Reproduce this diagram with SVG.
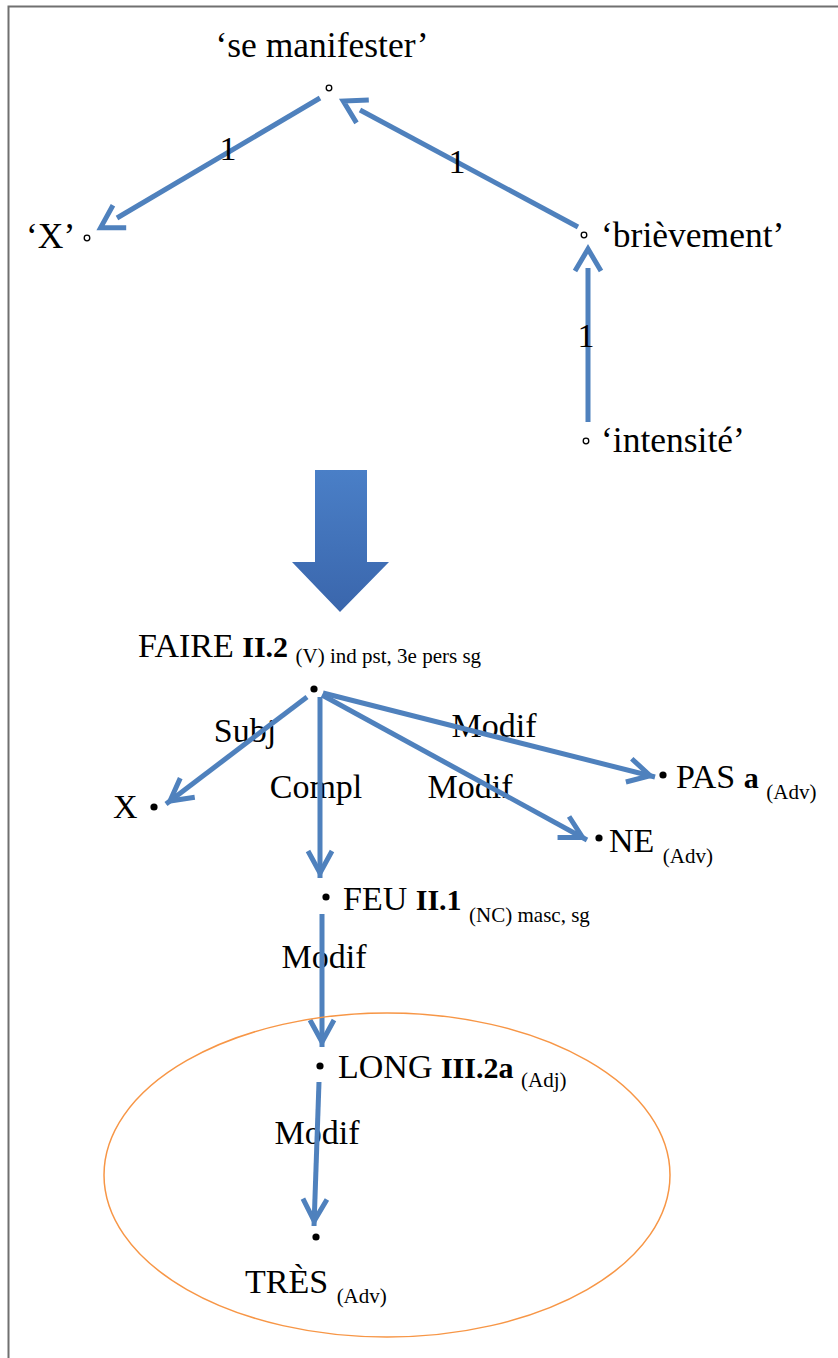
<svg xmlns="http://www.w3.org/2000/svg" width="838" height="1358" viewBox="0 0 838 1358">
<style>
.t{font-family:"Liberation Serif","Times New Roman",serif;font-size:34px;fill:#000}
.q{font-family:"Liberation Serif","Times New Roman",serif;font-size:35.5px;fill:#000}
.b{font-family:"Liberation Serif","Times New Roman",serif;font-size:30px;font-weight:bold;fill:#000}
.s{font-family:"Liberation Serif","Times New Roman",serif;font-size:21px;fill:#000}
.e{stroke:#4F81BD;stroke-width:5;fill:none}
.o{fill:#fff;stroke:#000;stroke-width:1.3}
.d{fill:#000}
</style>
<defs>
<marker id="tip" markerUnits="userSpaceOnUse" orient="auto" refX="0" refY="0" markerWidth="40" markerHeight="40" overflow="visible">
<path d="M-27,-12 L-5,0 L-27,12" fill="none" stroke="#4F81BD" stroke-width="5"/>
</marker>
<marker id="gap" markerUnits="userSpaceOnUse" orient="auto" refX="0" refY="0" markerWidth="40" markerHeight="40" overflow="visible">
<path d="M-3,-13 L19,0 L-3,13" fill="none" stroke="#4F81BD" stroke-width="5"/>
</marker>
<linearGradient id="bg" x1="0" y1="0" x2="0" y2="1">
<stop offset="0" stop-color="#4A7FC7"/>
<stop offset="1" stop-color="#3A66AC"/>
</linearGradient>
</defs>
<rect width="838" height="1358" fill="#fff"/>
<path d="M8.5,1358 V6.5 H838" fill="none" stroke="#707070" stroke-width="2"/>

<g id="n-se-manifester"><text class="q" x="322" y="57" text-anchor="middle">‘se manifester’</text><circle class="o" cx="329" cy="88" r="2.8"/></g>
<g id="n-X-top"><text class="q" x="26" y="248">‘X’</text><circle class="o" cx="87" cy="238" r="2.8"/></g>
<g id="n-brievement"><text class="q" x="601" y="247">‘brièvement’</text><circle class="o" cx="584" cy="235" r="2.8"/></g>
<g id="n-intensite"><text class="q" x="601" y="452">‘intensité’</text><circle class="o" cx="586" cy="441" r="2.8"/></g>

<g id="big-arrow"><path d="M315,470 H367 V562 H389 L340,612 L292,562 H315 Z" fill="url(#bg)"/></g>

<g id="n-faire"><text x="138" y="657"><tspan class="t">FAIRE </tspan><tspan class="b">II.2 </tspan><tspan class="s" dy="6">(V) ind pst, 3e pers sg</tspan></text><circle class="d" cx="314" cy="689" r="3.6"/></g>
<g id="n-X"><text class="t" x="113" y="818">X</text><circle class="d" cx="154" cy="807" r="3.6"/></g>
<g id="n-pas"><circle class="d" cx="663" cy="775" r="3.6"/><text x="676" y="788"><tspan class="t">PAS </tspan><tspan class="b">a </tspan><tspan class="s" dy="11">(Adv)</tspan></text></g>
<g id="n-ne"><circle class="d" cx="599" cy="838" r="3.6"/><text x="609" y="852"><tspan class="t">NE </tspan><tspan class="s" dy="11">(Adv)</tspan></text></g>
<g id="n-feu"><circle class="d" cx="326" cy="897" r="3.6"/><text x="343" y="910"><tspan class="t">FEU </tspan><tspan class="b">II.1 </tspan><tspan class="s" dy="12">(NC) masc, sg</tspan></text></g>
<g id="n-long"><circle class="d" cx="320" cy="1066" r="3.6"/><text x="338" y="1078"><tspan class="t">LONG </tspan><tspan class="b">III.2a </tspan><tspan class="s" dy="9">(Adj)</tspan></text></g>
<g id="n-tres"><circle class="d" cx="316" cy="1237" r="3.6"/><text x="245" y="1293"><tspan class="t">TRÈS </tspan><tspan class="s" dy="10">(Adv)</tspan></text></g>

<g id="edge-labels-lower">
<text class="t" x="245" y="742" text-anchor="middle">Subj</text>
<text class="t" x="316" y="798" text-anchor="middle">Compl</text>
<text class="t" x="470" y="798" text-anchor="middle">Modif</text>
<text class="t" x="494" y="737" text-anchor="middle">Modif</text>
<text class="t" x="324" y="968" text-anchor="middle">Modif</text>
<text class="t" x="317" y="1144" text-anchor="middle">Modif</text>
</g>

<g id="connectors">
<line class="e" x1="320" y1="98" x2="117" y2="218" marker-end="url(#gap)"/>
<line class="e" x1="578" y1="227" x2="360" y2="110" marker-end="url(#gap)"/>
<line class="e" x1="588" y1="422" x2="588" y2="268" marker-end="url(#gap)"/>
<line class="e" x1="307" y1="697" x2="166" y2="804" marker-end="url(#tip)"/>
<line class="e" x1="320" y1="697" x2="320" y2="878" marker-end="url(#tip)"/>
<line class="e" x1="322" y1="695" x2="587" y2="840" marker-end="url(#tip)"/>
<line class="e" x1="323" y1="693" x2="655" y2="777" marker-end="url(#tip)"/>
<line class="e" x1="322" y1="914" x2="322" y2="1047" marker-end="url(#tip)"/>
<line class="e" x1="319" y1="1082" x2="314" y2="1226" marker-end="url(#tip)"/>
</g>

<g id="edge-labels-upper">
<text class="t" x="228" y="160" text-anchor="middle">1</text>
<text class="t" x="457" y="173" text-anchor="middle">1</text>
<text class="t" x="586" y="347" text-anchor="middle">1</text>
</g>

<g id="ellipse"><ellipse cx="387" cy="1175" rx="283" ry="162" fill="none" stroke="#F79646" stroke-width="1.5"/></g>
</svg>
